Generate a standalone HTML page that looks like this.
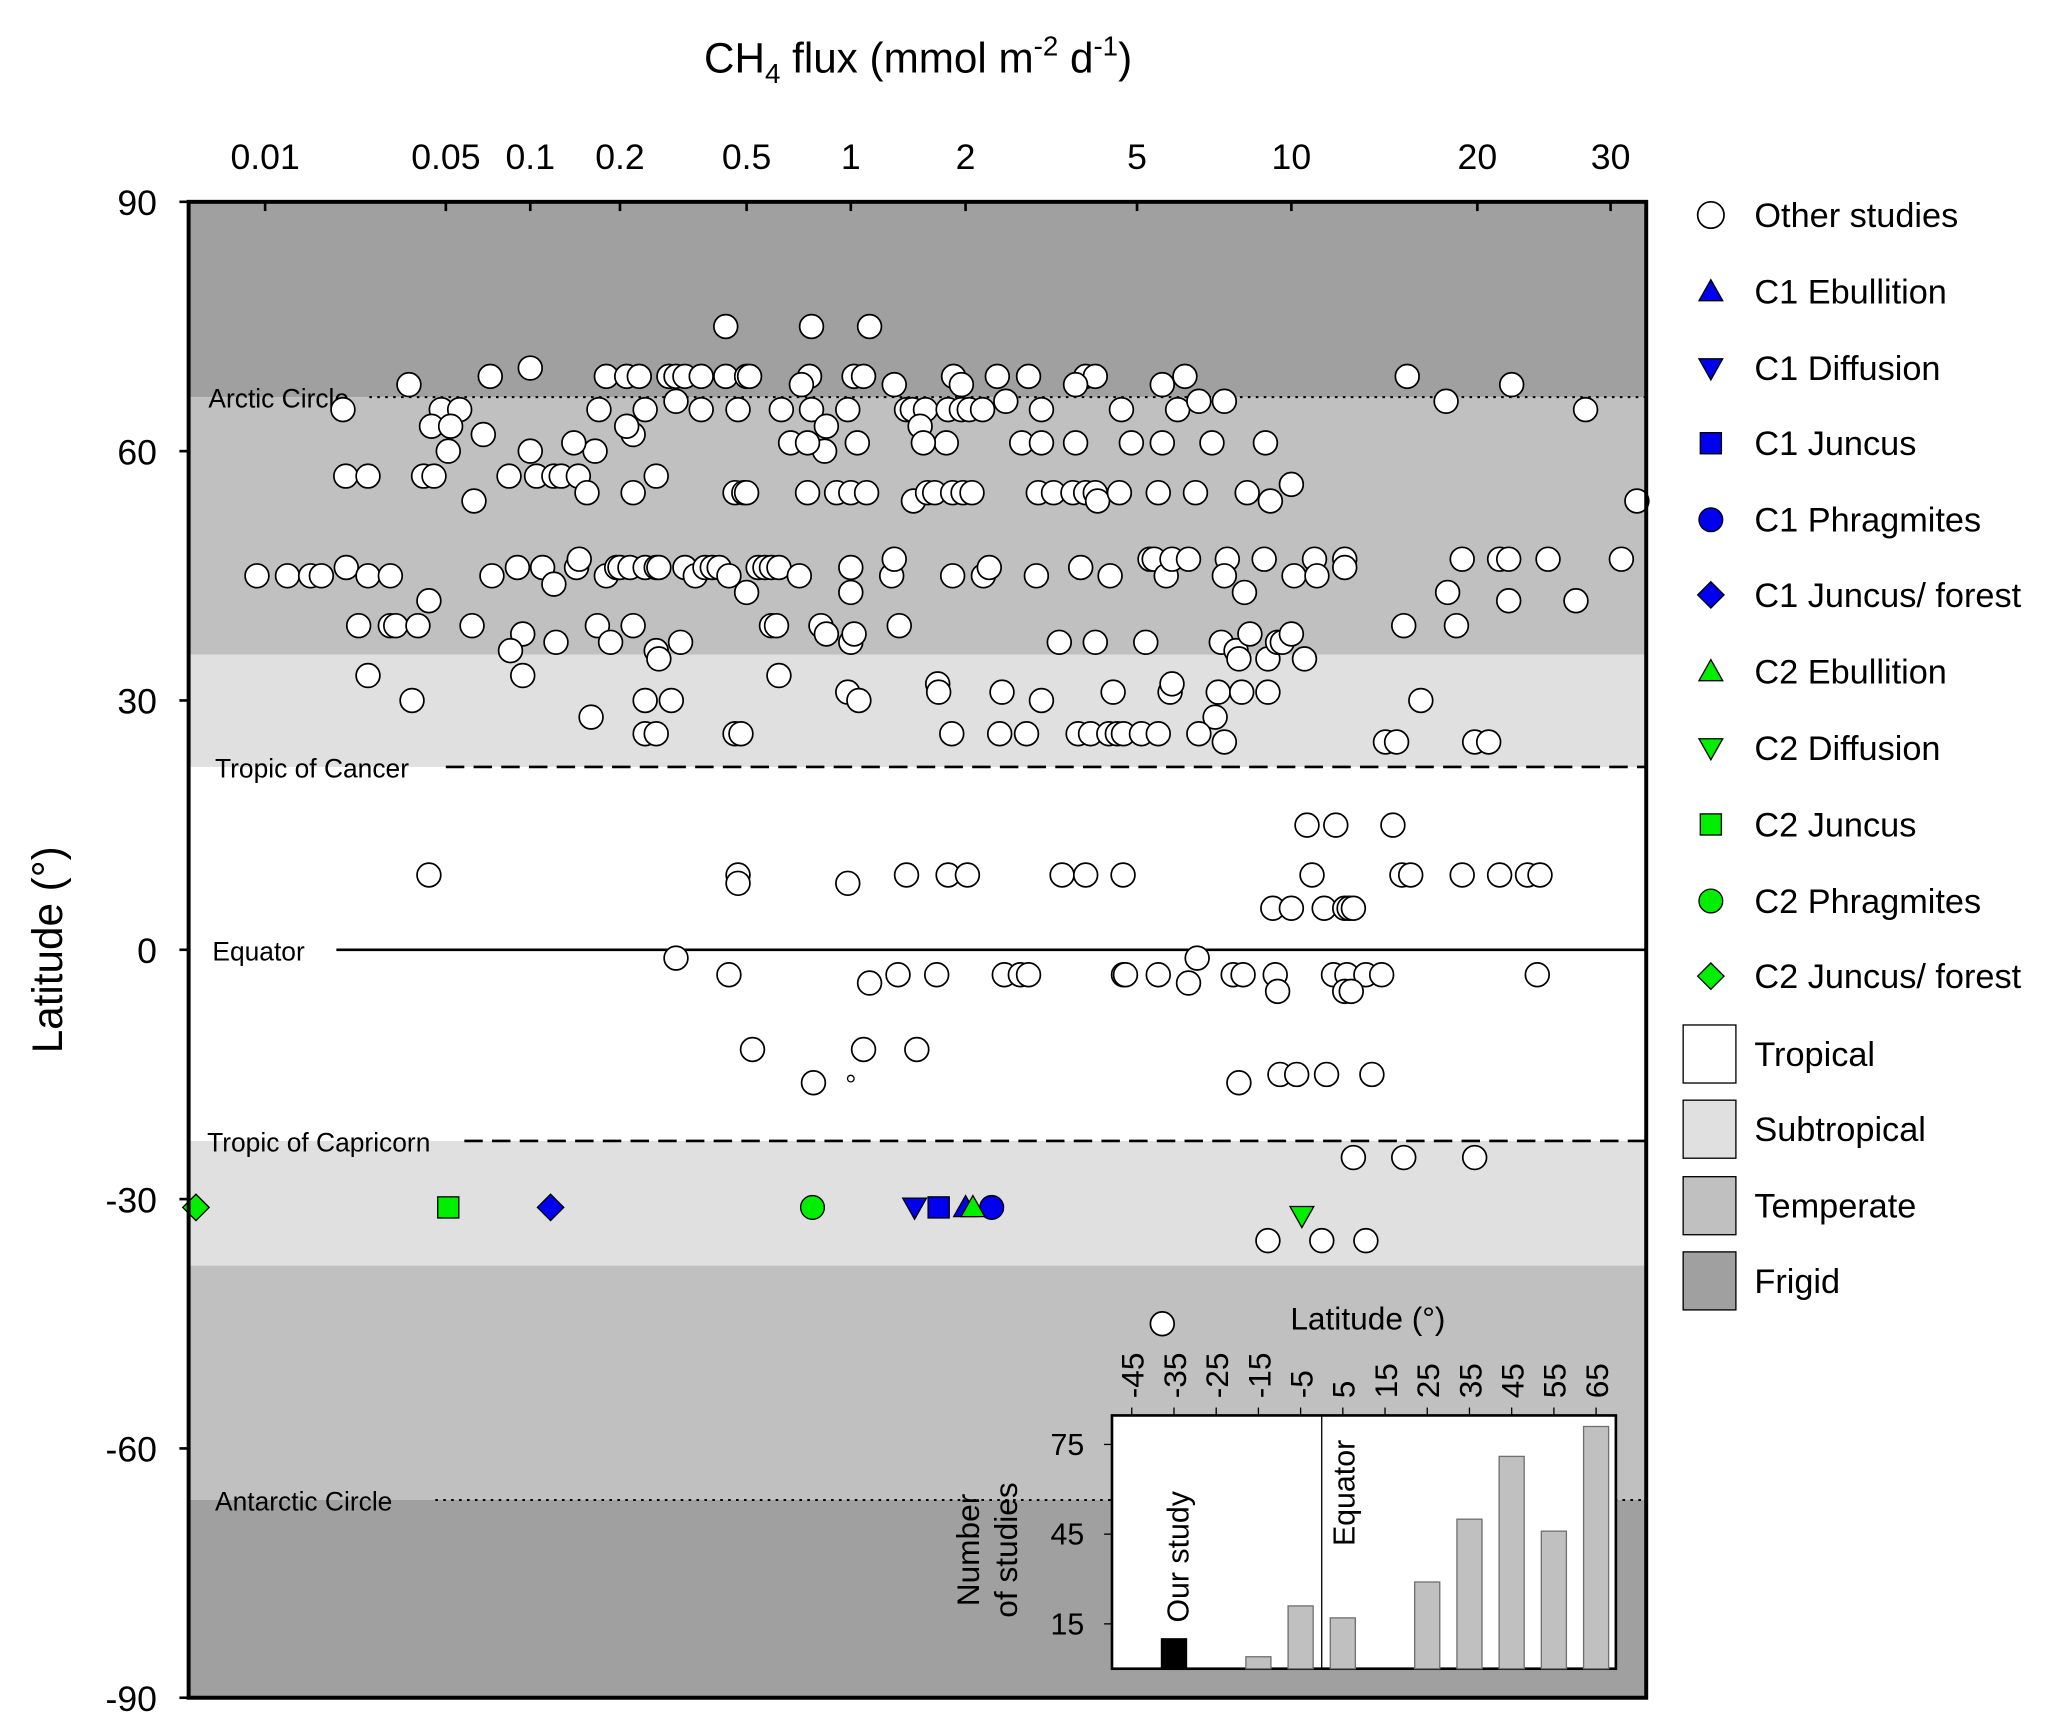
<!DOCTYPE html>
<html><head><meta charset="utf-8"><style>
html,body{margin:0;padding:0;background:#fff}
svg{display:block}
text{font-family:"Liberation Sans",Arial,sans-serif;fill:#000}
</style></head><body>
<svg id="chart" xmlns="http://www.w3.org/2000/svg" width="2067" height="1736" viewBox="0 0 1567 1316" preserveAspectRatio="none">
<g id="bands"></g>
<g id="lines"></g>
<g id="pts"></g>
<g id="axes"></g>
<g id="inset"></g>
<g id="legend"></g>
</svg>
<script>
// ---- data ----
const otherFlux = [0.43,0.77,1.12,
0.072,0.1,0.18,0.21,0.23,0.285,0.3,0.32,0.36,0.43,0.5,0.51,0.76,1.02,1.08,1.86,2.37,2.8,3.8,4.0,6.2,15.4,22.2,0.036,0.72,1.3,1.95,3.6,5.6,
0.02,0.048,0.056,0.17,0.24,0.3,0.36,0.47,0.63,0.77,0.98,1.4,1.45,1.57,1.8,1.95,2.04,2.19,2.48,3.0,4.6,6.0,6.6,7.4,17.8,27.8,
0.044,0.052,0.22,0.21,0.85,1.52,0.068,
0.051,0.1,0.165,0.67,0.84,1.04,1.78,2.7,3.0,3.6,4.85,5.6,7.0,8.9,0.14,0.75,1.55,
0.0205,0.025,0.041,0.045,0.084,0.105,0.12,0.127,0.145,0.26,
0.063,0.155,0.22,0.46,0.49,0.5,0.75,0.91,1.0,1.1,1.46,1.59,1.66,1.85,1.97,2.07,2.95,3.2,3.55,3.8,4.0,4.05,4.55,5.5,6.5,8.2,9.1,10,32.5,
0.0093,0.0122,0.015,0.0165,0.0206,0.025,0.0305,0.073,0.09,0.11,0.12,0.143,0.146,0.18,0.195,0.2,0.215,0.24,0.26,0.265,0.32,0.345,0.37,0.39,0.41,0.44,0.54,0.565,0.59,0.62,0.71,1.0,1.28,1.3,1.85,2.2,2.27,2.92,3.7,4.33,5.3,5.4,5.7,5.85,6.3,7.5,7.4,8.85,10.1,10.9,11,12.2,12.2,18.9,21.4,22,24.8,31,0.043,17.9,22,27,0.5,1.0,8.1,
0.023,0.0305,0.032,0.039,0.062,0.094,0.168,0.186,0.22,0.26,0.31,0.59,0.61,0.82,0.85,1.0,1.02,1.34,3.3,4.0,5.2,7.3,7.8,7.9,8.3,9.0,9.4,9.6,10,10.5,15.2,18.5,0.085,0.122,0.265,0.62,0.025,0.094,
0.037,0.24,0.29,0.98,1.05,1.69,1.7,2.43,3.0,4.4,5.8,5.85,7.2,8.0,9.0,16.2,0.16,7.1,
0.24,0.26,0.46,0.48,1.84,2.4,2.77,3.65,3.9,4.3,4.5,4.65,5.1,5.5,6.6,7.4,14.2,14.8,19.8,20.7,
10.6,11.8,14.6,
0.043,0.47,0.47,0.98,1.4,1.8,2.02,3.35,3.8,4.64,10.8,15.1,15.6,18.9,21.4,23.3,24.2,
9.2,10,11.3,12.2,12.4,12.6,
0.3,6.55,
0.44,1.33,1.68,2.46,2.68,2.8,4.65,4.7,5.5,7.7,8.05,9.3,11.7,12.3,13.2,14.0,24,1.12,6.3,9.4,12.2,12.5,
0.52,1.08,1.49,
9.5,10.2,11.4,13.5,7.9,0.78,
12.6,15.2,19.8,
9.0,11.2,13.2,
5.6];
const otherLat = [75,75,75,
69,70,69,69,69,69,69,69,69,69,69,69,69,69,69,69,69,69,69,69,69,69,68,68,68,68,68,68,68,
65,65,65,65,65,66,65,65,65,65,65,65,65,65,65,65,65,65,66,65,65,65,66,66,66,65,
63,63,62,63,63,63,62,
60,60,60,61,60,61,61,61,61,61,61,61,61,61,61,61,61,
57,57,57,57,57,57,57,57,57,57,
54,55,55,55,55,55,55,55,55,55,54,55,55,55,55,55,55,55,55,55,55,54,55,55,55,55,54,56,54,
45,45,45,45,46,45,45,45,46,46,44,46,47,45,46,46,46,46,46,46,46,45,46,46,46,45,46,46,46,46,45,46,45,47,45,45,46,45,46,45,47,47,45,47,47,47,45,47,45,47,45,47,46,47,47,47,47,47,42,43,42,42,43,43,43,
39,39,39,39,39,38,39,37,39,36,37,39,39,39,38,37,38,39,37,37,37,37,36,35,38,35,37,37,38,35,39,39,36,37,35,33,33,33,
30,30,30,31,30,32,31,31,30,31,31,32,31,31,31,30,28,28,
26,26,26,26,26,26,26,26,26,26,26,26,26,26,26,25,25,25,25,25,
15,15,15,
9,9,8,8,9,9,9,9,9,9,9,9,9,9,9,9,9,
5,5,5,5,5,5,
-1,-1,
-3,-3,-3,-3,-3,-3,-3,-3,-3,-3,-3,-3,-3,-3,-3,-3,-3,-4,-4,-5,-5,-5,
-12,-12,-12,
-15,-15,-15,-15,-16,-16,
-25,-25,-25,
-35,-35,-35,
-45];
const studyNames = ["C1 Ebullition","C1 Diffusion","C1 Juncus","C1 Phragmites","C1 Juncus/ forest","C2 Ebullition","C2 Diffusion","C2 Juncus","C2 Phragmites","C2 Juncus/ forest"];
const studyFlux = [2.0,1.47,1.7,2.3,0.117,2.08,10.4,0.051,0.775,0.0054];
const studyLat = [-31,-31,-31,-31,-31,-31,-32,-31,-31,-31];
const xTickVals = [0.01,0.05,0.1,0.2,0.5,1,2,5,10,20,30];
const xTickLabels = ["0.01","0.05","0.1","0.2","0.5","1","2","5","10","20","30"];
const yTickVals = [90,60,30,0,-30,-60,-90];
const histLat = [-35,-15,-5,5,25,35,45,55,65];
const histCount = [10,4,21,17,29,50,71,46,81];
const histTickVals = [-45,-35,-25,-15,-5,5,15,25,35,45,55,65];
const histYTicks = [15,45,75];

// ---- axis geometry ----
const L=143,R=1248,T=153,B=1287;
const tickPx=[201,338,402,470,566,645,732,862,979,1120,1221];
function xs(v){
  const lv=Math.log10(v), lt=xTickVals.map(Math.log10);
  let i=0; if(lv<=lt[0]) i=0; else if(lv>=lt[lt.length-1]) i=lt.length-2;
  else { while(lv>lt[i+1]) i++; }
  return tickPx[i]+(lv-lt[i])/(lt[i+1]-lt[i])*(tickPx[i+1]-tickPx[i]);
}
function ys(lat){return T+(90-lat)/180*(B-T);}
const NS="http://www.w3.org/2000/svg";
function mk(parent,tag,attrs,txt){const e=document.createElementNS(NS,tag);for(const k in attrs)e.setAttribute(k,attrs[k]);if(txt!==undefined)e.textContent=txt;parent.appendChild(e);return e;}

// bands
const bands=document.getElementById('bands');
const bandDefs=[[90,66.5,'#a0a0a0','frigid-band-north'],[66.5,35.5,'#c0c0c0','temperate-band-north'],[35.5,22,'#e0e0e0','subtropical-band-north'],[22,-23,'#ffffff','tropical-band'],[-23,-38,'#e0e0e0','subtropical-band-south'],[-38,-66.2,'#c0c0c0','temperate-band-south'],[-66.2,-90,'#a0a0a0','frigid-band-south']];
bandDefs.forEach(b=>{
  const r=mk(bands,'rect',{x:L,y:ys(b[0]),width:R-L,height:ys(b[1])-ys(b[0]),fill:b[2]});
  
  
});

// reference lines
const lines=document.getElementById('lines');
const refDefs=[[66.5,280,'2 4','Arctic Circle',158,'arctic-circle'],[22,338,'14 7','Tropic of Cancer',163,'tropic-of-cancer'],[0,255,'','Equator',161,'equator'],[-23,352,'14 7','Tropic of Capricorn',157,'tropic-of-capricorn'],[-66.2,330,'2 4','Antarctic Circle',163,'antarctic-circle']];
refDefs.forEach(d=>{
  const y=ys(d[0]);
  const ln=mk(lines,'line',{x1:d[1],x2:R,y1:y,y2:y,stroke:'#000','stroke-width':d[2]==='2 4'?1.5:2,'stroke-dasharray':d[2]});
  
  
  const t=mk(lines,'text',{x:d[4],y:y+8,'font-size':20},d[3]);
  
  
});

// points
const pts=document.getElementById('pts');
otherFlux.forEach((f,i)=>{
  const c=mk(pts,'circle',{cx:xs(f),cy:ys(otherLat[i]),r:9,fill:'#fff',stroke:'#000','stroke-width':1.3});
  
  
});
mk(pts,'circle',{cx:645,cy:ys(-15.5),r:2.5,fill:'#fff',stroke:'#000','stroke-width':1});

const styles=[['tri','#0000ee'],['dtri','#0000ee'],['sq','#0000ee'],['circ','#0000ee'],['dia','#0000ee'],['tri','#00ee00'],['dtri','#00ee00'],['sq','#00ee00'],['circ','#00ee00'],['dia','#00ee00']];
function marker(parent,shape,color,x,y){
  const s=9;let e;
  if(shape==='circ') e=mk(parent,'circle',{cx:x,cy:y,r:s});
  else if(shape==='sq') e=mk(parent,'rect',{x:x-8,y:y-8,width:16,height:16});
  else if(shape==='tri') e=mk(parent,'polygon',{points:`${x},${y-s} ${x+s},${y+7} ${x-s},${y+7}`});
  else if(shape==='dtri') e=mk(parent,'polygon',{points:`${x},${y+s} ${x+s},${y-7} ${x-s},${y-7}`});
  else e=mk(parent,'polygon',{points:`${x},${y-10} ${x+10},${y} ${x},${y+10} ${x-10},${y}`});
  e.setAttribute('fill',color);e.setAttribute('stroke','#000');e.setAttribute('stroke-width',1);
  return e;
}
studyFlux.forEach((f,i)=>{
  const e=marker(pts,styles[i][0],styles[i][1],xs(f),ys(studyLat[i]));
  
  
});

// axes
const ax=document.getElementById('axes');
const fr=mk(ax,'rect',{x:L,y:T,width:R-L,height:B-T,fill:'none',stroke:'#000','stroke-width':3});


xTickVals.forEach((v,i)=>{
  const x=xs(v);
  mk(ax,'line',{x1:x,x2:x,y1:T,y2:T+7,stroke:'#000','stroke-width':2});
  const t=mk(ax,'text',{x:x,y:128,'font-size':27,'text-anchor':'middle'},xTickLabels[i]);
  
  
});
yTickVals.forEach(v=>{
  const y=ys(v);
  mk(ax,'line',{x1:L-7,x2:L,y1:y,y2:y,stroke:'#000','stroke-width':2});
  const t=mk(ax,'text',{x:119,y:y+10,'font-size':27,'text-anchor':'end'},String(v));
  
  
});
const xt=mk(ax,'text',{x:696,y:55,'font-size':32,'text-anchor':'middle'});
xt.innerHTML='CH<tspan font-size="21" dy="8">4</tspan><tspan dy="-8"> flux (mmol m</tspan><tspan font-size="21" dy="-13">-2</tspan><tspan dy="13"> d</tspan><tspan font-size="21" dy="-13">-1</tspan><tspan dy="13">)</tspan>';


const yt=mk(ax,'text',{x:0,y:0,'font-size':32,'text-anchor':'middle',transform:'translate(47,720) rotate(-90)'},'Latitude (°)');



// inset
const ins=document.getElementById('inset');
function hx(l){return 858+(l+45)*3.2;}
function hy(c){return 1265-c*2.267;}
const ib=mk(ins,'rect',{x:843,y:1073,width:382,height:192,fill:'#fff',stroke:'#000','stroke-width':2});


mk(ins,'line',{x1:hx(0),x2:hx(0),y1:1073,y2:1265,stroke:'#000','stroke-width':1});
histLat.forEach((l,i)=>{
  const r=mk(ins,'rect',{x:hx(l)-9.5,y:hy(histCount[i]),width:19,height:histCount[i]*2.267,fill:i===0?'#000':'#c0c0c0',stroke:i===0?'#000':'#707070','stroke-width':1});
  
  
});
histTickVals.forEach(v=>{
  const x=hx(v);
  mk(ins,'line',{x1:x,x2:x,y1:1067,y2:1073,stroke:'#000','stroke-width':1});
  const t=mk(ins,'text',{x:0,y:0,'font-size':24,'text-anchor':'start',transform:`translate(${x+9},1060) rotate(-90)`},String(v));
  
  
});
histYTicks.forEach(v=>{
  const y=hy(v);
  mk(ins,'line',{x1:837,x2:843,y1:y,y2:y,stroke:'#000','stroke-width':1});
  const t=mk(ins,'text',{x:822,y:y+8,'font-size':23,'text-anchor':'end'},String(v));
  
  
});
const it=mk(ins,'text',{x:1037,y:1008,'font-size':24,'text-anchor':'middle'},'Latitude (°)');


const iy=mk(ins,'text',{x:0,y:0,'font-size':24,'text-anchor':'middle',transform:'translate(742,1175) rotate(-90)'});
iy.innerHTML='<tspan x="0" dy="0">Number</tspan><tspan x="0" dy="29">of studies</tspan>';


const os=mk(ins,'text',{x:0,y:0,'font-size':23,'text-anchor':'start',transform:'translate(901,1230) rotate(-90)'},'Our study');


const eq=mk(ins,'text',{x:0,y:0,'font-size':23,'text-anchor':'start',transform:'translate(1027,1172) rotate(-90)'},'Equator');



// legend
const lg=document.getElementById('legend');
const legRows=[163,221,279,336,394,451,509,567,625,683,740];
const oc=mk(lg,'circle',{cx:1297,cy:legRows[0],r:10,fill:'#fff',stroke:'#000','stroke-width':1.3});


const ot=mk(lg,'text',{x:1330,y:legRows[0]+9,'font-size':26},'Other studies');


studyNames.forEach((n,i)=>{
  const y=legRows[i+1];
  const m=marker(lg,styles[i][0],styles[i][1],1297,y);
  
  
  const t=mk(lg,'text',{x:1330,y:y+9,'font-size':26},n);
  
  
});
[['Tropical','#ffffff',777],['Subtropical','#e0e0e0',834],['Temperate','#c0c0c0',892],['Frigid','#a0a0a0',949]].forEach(z=>{
  const r=mk(lg,'rect',{x:1276,y:z[2],width:40,height:44,fill:z[1],stroke:'#000','stroke-width':1});
  
  
  const t=mk(lg,'text',{x:1330,y:z[2]+31,'font-size':26},z[0]);
  
  
});
</script>
</body></html>
